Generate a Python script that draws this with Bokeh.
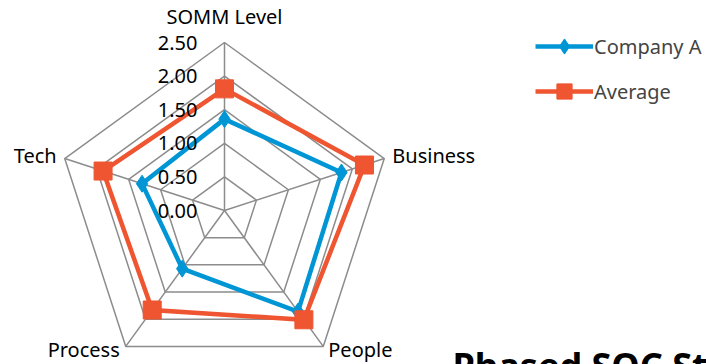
import numpy as np
from bokeh.plotting import figure
from bokeh.models import Range1d, Legend, LegendItem, Label
from bokeh.core.properties import value
from bokeh.embed import file_html
from bokeh.resources import INLINE

categories = ["SOMM Level", "Business", "People", "Process", "Tech"]
company_a = [1.36, 1.83, 1.86, 1.07, 1.29]
average = [1.81, 2.19, 2.01, 1.83, 1.90]
tick_values = [0.0, 0.5, 1.0, 1.5, 2.0, 2.5]
tick_labels = ["0.00", "0.50", "1.00", "1.50", "2.00", "2.50"]
title_text = "Phased SOC Strategy"

FONT = "Noto Sans"
BLUE = "#0096D6"
ORANGE = "#EE5530"
GRID = "#8C8C8C"

W, H = 706, 364
CX, CY = 224, 210          # pixel centre of the radar
RMAX = max(tick_values)
k = 168 / RMAX             # pixels per value unit

p = figure(width=W, height=H, output_backend="svg", toolbar_location=None,
           x_range=Range1d(-CX / k, (W - CX) / k),
           y_range=Range1d(-(H - CY) / k, CY / k),
           min_border=0, outline_line_color=None)
p.axis.visible = False
p.grid.visible = False
p.background_fill_color = "white"

n = len(categories)
angles = np.pi / 2 - 2 * np.pi * np.arange(n) / n

def polar(vals):
    v = np.asarray(vals, dtype=float)
    return list(v * np.cos(angles)), list(v * np.sin(angles))

# grid rings
for t in tick_values[1:]:
    xs, ys = polar([t] * n)
    p.line(xs + [xs[0]], ys + [ys[0]], line_color=GRID, line_width=1.5)
# spokes
xo, yo = polar([RMAX] * n)
for i in range(n):
    p.line([0, xo[i]], [0, yo[i]], line_color=GRID, line_width=1.5)

# series
xa, ya = polar(company_a)
la = p.line(xa + [xa[0]], ya + [ya[0]], line_color=BLUE, line_width=4.5, line_join="miter")
sa = p.scatter(xa, ya, marker="diamond", size=17, fill_color=BLUE, line_color=BLUE)

xv, yv = polar(average)
lv = p.line(xv + [xv[0]], yv + [yv[0]], line_color=ORANGE, line_width=4.5, line_join="miter")
sv = p.scatter(xv, yv, marker="square", size=18, fill_color=ORANGE, line_color=ORANGE)

# tick labels
p.text(x=[0] * len(tick_values), y=tick_values, text=tick_labels,
       x_offset=-27, text_align="right", text_baseline="middle",
       text_font=value(FONT), text_font_size="20px", text_color="black")

# category labels
aligns = ["center", "left", "left", "right", "right"]
xoffs = [0, 8, 5, -6, -8]
yoffs = [-26, -3, 3, 3, -3]
for i, c in enumerate(categories):
    p.text(x=[xo[i]], y=[yo[i]], text=[c], x_offset=xoffs[i], y_offset=yoffs[i],
           text_align=aligns[i], text_baseline="middle",
           text_font=value(FONT), text_font_size="20px", text_color="black")

legend = Legend(items=[LegendItem(label="Company A", renderers=[la, sa]),
                       LegendItem(label="Average", renderers=[lv, sv])],
                location=(535, 254), glyph_width=58, glyph_height=38,
                spacing=7, padding=0, margin=0, label_standoff=1,
                label_text_font=FONT, label_text_font_size="20px",
                border_line_color=None, background_fill_alpha=0)
p.add_layout(legend)

p.add_layout(Label(x=452, y=H - 340, x_units="screen", y_units="screen", text=title_text,
                   text_font=FONT, text_font_size="36px", text_font_style="bold",
                   text_color="black", text_baseline="top"))

open("out.html", "w").write(file_html(p, INLINE))
